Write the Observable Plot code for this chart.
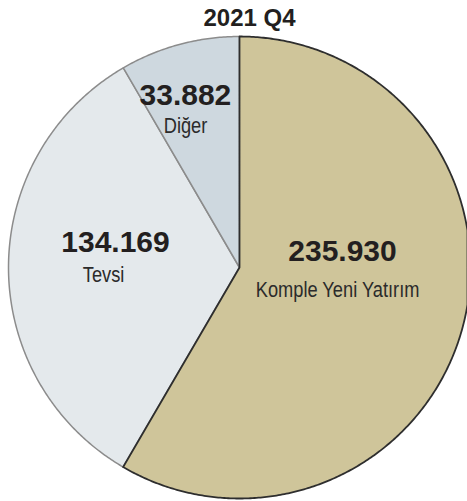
<!DOCTYPE html>
<html><head><meta charset="utf-8">
<script src="https://cdn.jsdelivr.net/npm/d3@7"></script>
<script src="https://cdn.jsdelivr.net/npm/@observablehq/plot@0.6"></script>
<style>html,body{margin:0;padding:0;background:#fff;overflow:hidden}</style>
</head><body><div id="chart"></div>
<script>
// ---- data ----
const title = "2021 Q4";
const categories = ["Komple Yeni Yatırım", "Tevsi", "Diğer"];
const values = [235930, 134169, 33882];

// ---- styles / layout ----
const colors = ["#cfc59a", "#e4e9ec", "#ced8df"];
const strokes = ["#2e2e2e", "#8c8c8c", "#8c8c8c"];
const W = 467, H = 501, CX = 239, CY = 267, R = 231;
const nameCondense = 0.83; // horizontal squeeze imitating a condensed face
// pixel offsets of value / name labels from the slice's mid-radius point
const numOffsets = [[-8.5, -37], [-8.5, -15], [-24, -50.5]];
const nameOffsets = [[-13.5, -1], [-20.5, 15], [-24, -22.5]];

const trFormat = d3.formatLocale({decimal: ",", thousands: ".", grouping: [3], currency: ["₺", ""]}).format(",");

const arcs = d3.pie().sort(null)(values);
const slices = arcs.map((a, i) => {
  const n = Math.max(2, Math.ceil((a.endAngle - a.startAngle) / (Math.PI / 360)));
  const ring = [[0, 0]];
  for (let k = 0; k <= n; k++) {
    const t = a.startAngle + (a.endAngle - a.startAngle) * k / n;
    ring.push([Math.sin(t), Math.cos(t)]);
  }
  ring.push([0, 0]);
  return {type: "Feature", properties: {i}, geometry: {type: "Polygon", coordinates: [ring]}};
});
const labels = arcs.map((a, i) => {
  const m = (a.startAngle + a.endAngle) / 2;
  const x = 0.5 * Math.sin(m), y = 0.5 * Math.cos(m);
  return {
    i,
    num: trFormat(values[i]),
    name: categories[i],
    nx: x + numOffsets[i][0] / R, ny: y - numOffsets[i][1] / R,
    mx: x + nameOffsets[i][0] / R, my: y - nameOffsets[i][1] / R
  };
});

const domain = {type: "MultiPoint", coordinates: [
  [(0 - CX) / R, (CY - H) / R],
  [(W - CX) / R, (CY - 0) / R]
]};

const order = [1, 2, 0];
const chart = Plot.plot({
  width: W, height: H,
  margin: 0,
  projection: {type: "reflect-y", domain},
  style: {background: "#fff", overflow: "hidden"},
  marks: [
    ...order.map(i => Plot.geo([slices[i]], {fill: colors[i], stroke: strokes[i], strokeWidth: i === 0 ? 1.8 : 1.5, strokeLinejoin: "round"})),
    Plot.text(labels, {x: "nx", y: "ny", text: "num", textAnchor: "middle", lineAnchor: "bottom",
      fontFamily: "'Liberation Sans', Arial, Helvetica, sans-serif", fontWeight: "bold", fontSize: 30, fill: "#231f20"}),
    Plot.text(labels, {x: "mx", y: "my", text: "name", textAnchor: "middle", lineAnchor: "bottom",
      fontFamily: "'Liberation Sans', Arial, Helvetica, sans-serif", fontSize: 22, fill: "#2b2b2b"}),
    Plot.text([title], {frameAnchor: "top", lineAnchor: "top", dx: 15.5, dy: 8,
      fontFamily: "'Liberation Sans', Arial, Helvetica, sans-serif", fontWeight: "bold", fontSize: 24, fill: "#231f20"})
  ]
});
document.getElementById("chart").appendChild(chart);

// squeeze the category names horizontally around their own centre
const svgBox = chart.getBoundingClientRect();
d3.select(chart).selectAll("text")
  .filter(function() { return categories.includes(this.textContent); })
  .each(function() {
    const b = this.getBoundingClientRect();
    const cx = b.left + b.width / 2 - svgBox.left;
    const g = document.createElementNS("http://www.w3.org/2000/svg", "g");
    g.setAttribute("transform", `translate(${cx},0) scale(${nameCondense},1) translate(${-cx},0)`);
    this.parentNode.insertBefore(g, this);
    g.appendChild(this);
  });
</script>
</body></html>
